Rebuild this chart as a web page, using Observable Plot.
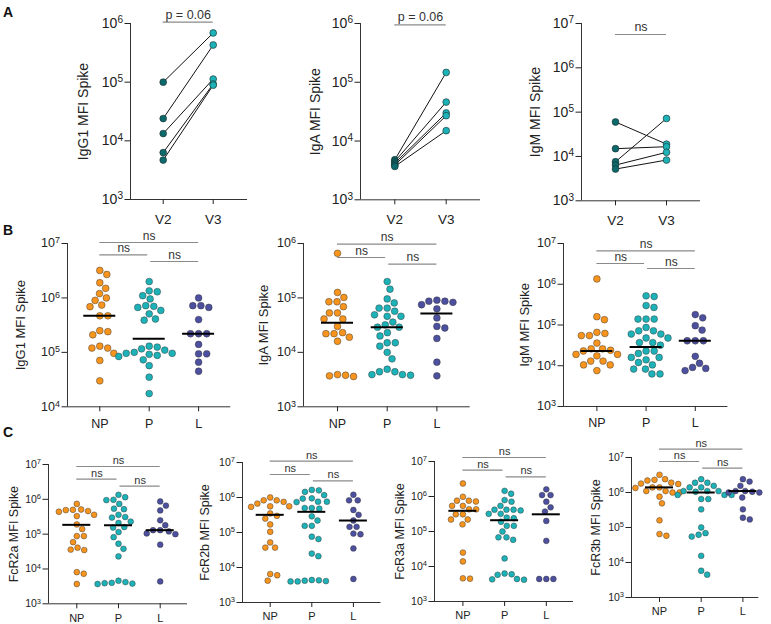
<!DOCTYPE html>
<html><head><meta charset="utf-8">
<script src="https://cdn.jsdelivr.net/npm/d3@7"></script>
<script src="https://cdn.jsdelivr.net/npm/@observablehq/plot@0.6"></script>
<style>
body{margin:0;background:#fff;font-family:"Liberation Sans",Arial,Helvetica,sans-serif;}
#fig{position:relative;width:771px;height:624px;overflow:hidden;background:#fff;}
.panel{position:absolute;}
.letter{position:absolute;font-weight:bold;font-size:14px;line-height:14px;color:#111;}
</style></head><body><div id="fig"></div>
<script>
// ---------------- DATA ----------------
const visits = ["V2", "V3"];
const groups = ["NP", "P", "L"];

// Row A: paired V2 -> V3
const iggV2 = [1.0e5, 2.4e4, 1.33e4, 6.3e3, 4.7e3];
const iggV3 = [6.9e5, 4.3e5, 1.13e5, 9.3e4, 8.9e4];
const igaV2 = [4.8e3, 4.5e3, 4.2e3, 3.9e3, 3.7e3];
const igaV3 = [1.47e5, 4.6e4, 3.0e4, 2.7e4, 1.5e4];
const igmV2 = [6.0e4, 1.5e4, 7.6e3, 6.4e3, 5.2e3];
const igmV3 = [1.9e4, 1.66e4, 7.2e4, 1.24e4, 8.3e3];

// Row B
const igg1NP = [3.2e6, 2.7e6, 1.9e6, 1.5e6, 1.2e6, 1.0e6, 9.0e5, 7.4e5, 6.9e5, 4.7e5, 4.7e5, 2.5e5, 2.4e5, 2.1e5, 1.3e5, 1.2e5, 1.2e5, 9.6e4, 7.1e4, 3.0e4];
const igg1P = [2.0e6, 1.35e6, 1.3e6, 1.1e6, 9.6e5, 7.2e5, 7.0e5, 6.7e5, 5.9e5, 5.1e5, 4.1e5, 3.9e5, 1.3e5, 1.25e5, 1.16e5, 1.1e5, 1.0e5, 9.6e4, 9.6e4, 9.2e4, 8.8e4, 8.4e4, 7.3e4, 5.7e4, 3.5e4, 1.75e4];
const igg1L = [1.0e6, 7.2e5, 7.2e5, 6.7e5, 4.0e5, 2.2e5, 2.2e5, 2.2e5, 1.4e5, 9.4e4, 9.4e4, 6.6e4, 4.5e4];
const igg1Med = [4.7e5, 1.77e5, 2.2e5];

const igaNP = [6.6e5, 1.26e5, 1.02e5, 8.5e4, 8.5e4, 6.9e4, 5.3e4, 5.3e4, 4.1e4, 4.1e4, 3.0e4, 2.3e4, 2.2e4, 2.2e4, 1.9e4, 1.6e4, 3.9e3, 3.8e3, 3.7e3, 3.6e3];
const igaP = [2.0e5, 1.45e5, 9.6e4, 8.1e4, 6.5e4, 6.5e4, 5.7e4, 4.9e4, 4.6e4, 4.6e4, 3.6e4, 3.2e4, 2.9e4, 2.9e4, 2.3e4, 2.0e4, 1.5e4, 1.5e4, 1.3e4, 1.0e4, 7.6e3, 4.9e3, 4.4e3, 4.4e3, 3.9e3, 3.9e3, 3.8e3];
const igaL = [9.1e4, 8.7e4, 8.7e4, 8.3e4, 7.5e4, 6.3e4, 4.3e4, 3.0e4, 2.8e4, 1.8e4, 6.6e3, 3.7e3];
const igaMed = [3.5e4, 2.9e4, 5.2e4];

const igmNP = [1.35e6, 1.6e5, 1.35e5, 6.6e4, 6.2e4, 5.5e4, 5.5e4, 3.6e4, 2.6e4, 2.6e4, 2.4e4, 2.3e4, 1.9e4, 1.9e4, 1.75e4, 1.3e4, 1.3e4, 1.05e4, 1.05e4, 7.6e3];
const igmP = [5.2e5, 5.0e5, 3.0e5, 2.7e5, 1.4e5, 1.4e5, 1.4e5, 8.7e4, 7.2e4, 7.2e4, 6.0e4, 6.0e4, 4.8e4, 4.8e4, 3.7e4, 3.7e4, 3.2e4, 2.3e4, 2.3e4, 2.0e4, 1.6e4, 1.6e4, 1.4e4, 1.2e4, 1.05e4, 8.3e3, 8.3e3, 6.3e3, 6.3e3];
const igmL = [1.8e5, 1.5e5, 9.6e4, 7.5e4, 4.1e4, 4.1e4, 4.1e4, 1.7e4, 1.15e4, 9.1e3, 8.6e3, 7.6e3];
const igmMed = [2.3e4, 2.9e4, 4.1e4];

// Row C
const fcr2aNP = [7.4e5, 5.1e5, 5.0e5, 4.6e5, 4.4e5, 4.9e5, 3.6e5, 3.3e5, 1.9e5, 1.4e5, 8.8e4, 8.8e4, 5.9e4, 4.1e4, 3.6e4, 3.5e4, 8.1e3, 7.3e3, 3.7e3];
const fcr2aP = [1.35e6, 1.15e6, 9.7e5, 9.5e5, 7.4e5, 5.4e5, 5.2e5, 3.6e5, 3.1e5, 3.0e5, 2.3e5, 2.1e5, 1.6e5, 1.55e5, 1.15e5, 8.2e4, 5.3e4, 3.8e4, 2.3e4, 4.6e3, 4.2e3, 4.0e3, 3.9e3, 3.8e3, 3.7e3];
const fcr2aL = [8.7e5, 6.6e5, 4.8e5, 2.5e5, 1.8e5, 1.3e5, 1.3e5, 1.2e5, 1.05e5, 1.0e5, 5.0e4, 4.4e3];
const fcr2aMed = [1.85e5, 1.8e5, 1.3e5];

const fcr2bNP = [1.0e6, 8.3e5, 8.3e5, 7.5e5, 6.7e5, 5.6e5, 5.6e5, 5.4e5, 3.5e5, 3.0e5, 2.5e5, 1.7e5, 1.05e5, 5.2e4, 3.7e4, 3.7e4, 6.5e3, 6.0e3, 4.2e3];
const fcr2bP = [1.65e6, 1.6e6, 1.45e6, 1.17e6, 9.5e5, 9.3e5, 7.6e5, 7.6e5, 7.4e5, 5.0e5, 5.0e5, 4.8e5, 2.9e5, 2.2e5, 1.55e5, 1.55e5, 7.6e4, 6.5e4, 2.5e4, 2.1e4, 4.4e3, 4.3e3, 4.2e3, 4.1e3, 4.0e3, 4.0e3];
const fcr2bL = [1.2e6, 8.3e5, 8.3e5, 4.4e5, 3.2e5, 2.2e5, 1.45e5, 1.45e5, 9.3e4, 8.9e4, 3.5e4, 4.7e3];
const fcr2bMed = [3.2e5, 3.9e5, 2.2e5];

const fcr3aNP = [2.35e6, 9.8e5, 7.6e5, 7.6e5, 7.2e5, 5.4e5, 5.4e5, 4.3e5, 4.3e5, 3.1e5, 3.1e5, 2.2e5, 2.2e5, 1.6e5, 2.5e4, 1.4e4, 4.6e3, 4.5e3];
const fcr3aP = [1.45e6, 1.2e6, 7.9e5, 7.1e5, 5.4e5, 4.2e5, 4.2e5, 4.2e5, 4.0e5, 3.2e5, 3.2e5, 2.5e5, 2.4e5, 1.9e5, 1.45e5, 1.45e5, 1.0e5, 6.8e4, 6.8e4, 5.8e4, 1.7e4, 6.3e3, 6.0e3, 5.8e3, 4.4e3, 4.3e3, 4.2e3];
const fcr3aL = [1.6e6, 1.1e6, 1.1e6, 7.1e5, 4.9e5, 3.7e5, 2.0e5, 5.4e4, 4.4e3, 4.4e3, 4.4e3];
const fcr3aMed = [3.9e5, 2.1e5, 3.1e5];

const fcr3bNP = [3.2e6, 2.4e6, 2.3e6, 2.2e6, 1.9e6, 1.8e6, 1.75e6, 1.4e6, 1.4e6, 1.35e6, 1.1e6, 1.1e6, 1.0e6, 1.0e6, 7.6e5, 4.9e5, 1.6e5, 6.5e4, 5.8e4];
const fcr3bP = [2.4e6, 1.9e6, 1.9e6, 1.55e6, 1.4e6, 1.4e6, 1.1e6, 1.1e6, 1.1e6, 1.05e6, 8.5e5, 8.5e5, 8.5e5, 6.5e5, 6.5e5, 3.3e5, 1.0e5, 6.9e4, 6.2e4, 5.5e4, 1.55e4, 5.8e3, 4.5e3];
const fcr3bL = [2.4e6, 2.05e6, 1.55e6, 1.1e6, 1.1e6, 1.05e6, 1.0e6, 1.0e6, 7.2e5, 3.3e5, 1.9e5, 1.7e5];
const fcr3bMed = [1.4e6, 1.0e6, 1.1e6];

const pairTest = ["p = 0.06", "p = 0.06", "ns"];
const groupTests = ["ns", "ns", "ns"]; // NP-L, NP-P, P-L

// ---------------- STYLE / LAYOUT ----------------
const FONT = '"Liberation Sans", Arial, Helvetica, sans-serif';
const COLORS = {NP: "#f7941d", P: "#1db2b7", L: "#4d4f9f", V2: "#0c6a6c", V3: "#1db2b7"};
const AXIS = "#333";
const BRACKET = "#8a8a8a";

const LAY = {
  A1: {ax:130, xEnd:247, yTop:23.3, yBot:199.3, c0:162.7, s:50, labOff:47, r:3.4, tickFont:14, catFont:13.5, labFont:14, nsFont:12.5, catPad:10, br:[-1.3], nsDy:-7.5},
  A2: {ax:360, xEnd:480, yTop:22.7, yBot:199, c0:394.3, s:51.4, labOff:45, r:3.4, tickFont:14, catFont:13.5, labFont:14, nsFont:12.5, catPad:10, br:[1.3], nsDy:-7.5},
  A3: {ax:581, xEnd:700, yTop:22.7, yBot:200, c0:615, s:51, labOff:46, r:3.4, tickFont:14, catFont:13.5, labFont:14, nsFont:12.5, catPad:10, br:[11], nsDy:-7},
  B1: {ax:66.7, xEnd:230, yTop:242.7, yBot:406, c0:99, s:49.4, labOff:46.7, r:3.4, tickFont:12.5, catFont:12.5, labFont:13, nsFont:12, catPad:7, br:[-1, 11.3, 18], nsDy:-6.5, hw:16},
  B2: {ax:303.3, xEnd:470, yTop:242.7, yBot:406, c0:337.3, s:49.7, labOff:40, r:3.4, tickFont:12.5, catFont:12.5, labFont:13, nsFont:12, catPad:7, br:[0.6, 14, 20.6], nsDy:-6.5, hw:16},
  B3: {ax:563.3, xEnd:727.7, yTop:242.7, yBot:405.7, c0:596.7, s:49.2, labOff:39, r:3.4, tickFont:12.5, catFont:12.5, labFont:13, nsFont:12, catPad:7, br:[7.3, 20, 25], nsDy:-6.5, hw:16},
  C1: {ax:47.7, xEnd:186.7, yTop:464, yBot:603.3, c0:76, s:41.7, labOff:34.7, r:2.9, tickFont:10.5, catFont:11, labFont:12.5, nsFont:11, catPad:5, br:[2, 14.7, 21.7], nsDy:-6, hw:14},
  C2: {ax:241.5, xEnd:380, yTop:462.3, yBot:602.3, c0:269.2, s:41.6, labOff:38, r:2.9, tickFont:10.5, catFont:11, labFont:12.5, nsFont:11, catPad:5, br:[-1.3, 12, 18.4], nsDy:-6, hw:14},
  C3: {ax:434.3, xEnd:573.3, yTop:460.7, yBot:600.7, c0:462.7, s:41.7, labOff:35, r:2.9, tickFont:10.5, catFont:11, labFont:12.5, nsFont:11, catPad:5, br:[-4, 8.6, 15.3], nsDy:-6, hw:14},
  C4: {ax:631, xEnd:758.3, yTop:456.7, yBot:596.7, c0:659, s:41.7, labOff:36, r:2.9, tickFont:10.5, catFont:11, labFont:12.5, nsFont:11, catPad:5, br:[-8.4, 4, 10.6], nsDy:-6, hw:14}
};

// ---------------- HELPERS ----------------
function swarm(values, ypx, D) {
  const order = d3.range(values.length).sort((a, b) => d3.descending(values[a], values[b]));
  const placed = [], out = new Array(values.length);
  for (const i of order) {
    const y = ypx(values[i]);
    const cands = [0];
    for (const p of placed) {
      const dy = Math.abs(p.y - y);
      if (dy < D) { const dx = Math.sqrt(D * D - dy * dy); cands.push(p.x + dx, p.x - dx); }
    }
    cands.sort((a, b) => Math.abs(a) - Math.abs(b));
    let x = 0;
    for (const c of cands) {
      if (placed.every(p => (p.x - c) ** 2 + (p.y - y) ** 2 >= D * D - 1e-6)) { x = c; break; }
    }
    placed.push({x, y});
    out[i] = x;
  }
  return out;
}

function superscripts(svg) {
  const ns = "http://www.w3.org/2000/svg";
  svg.querySelectorAll("text").forEach(t => {
    const m = /^10\^(-?\d+)$/.exec(t.textContent);
    if (m) {
      t.textContent = "";
      const a = document.createElementNS(ns, "tspan"); a.textContent = "10";
      const b = document.createElementNS(ns, "tspan"); b.textContent = m[1];
      b.setAttribute("dy", "-0.45em"); b.setAttribute("font-size", "0.72em");
      t.append(a, b);
    }
  });
}

function makePanel(spec) {
  const L = spec.layout;
  const mL = 62, mR = 14, mT = 42, mB = 34;
  const fw = L.xEnd - L.ax, fh = L.yBot - L.yTop;
  const W = fw + mL + mR, H = fh + mT + mB;
  const xDom = [(L.ax - L.c0) / L.s, (L.xEnd - L.c0) / L.s];
  const [e0, e1] = spec.exp;
  const yDom = [10 ** e0, 10 ** e1];
  const decPx = fh / (e1 - e0);
  const yAt = off => 10 ** (e1 - off / decPx);
  const ypx = d3.scaleLog().domain(yDom).range([mT + fh, mT]);
  const cats = spec.cats;
  const marks = [];

  // data marks
  if (spec.paired) {
    const pairs = spec.paired.v2.map((v, i) => ({v2: v, v3: spec.paired.v3[i]}));
    marks.push(Plot.link(pairs, {x1: () => 0, x2: () => 1, y1: "v2", y2: "v3", stroke: "#111", strokeWidth: 1}));
    marks.push(Plot.dot(pairs, {x: () => 0, y: "v2", r: L.r, fill: COLORS.V2, stroke: "#1a2a2a", strokeWidth: 0.6}));
    marks.push(Plot.dot(pairs, {x: () => 1, y: "v3", r: L.r, fill: COLORS.V3, stroke: "#1a2a2a", strokeWidth: 0.6}));
  } else {
    const pts = [];
    spec.series.forEach((vals, gi) => {
      const offs = swarm(vals, ypx, 2 * L.r + 1.3);
      vals.forEach((v, k) => pts.push({g: cats[gi], gi, v, x: gi + offs[k] / L.s}));
    });
    marks.push(Plot.dot(pts, {x: "x", y: "v", r: L.r, fill: d => COLORS[d.g], stroke: "#333", strokeWidth: 0.5, strokeOpacity: 0.9}));
    const med = spec.medians.map((v, gi) => ({gi, v}));
    marks.push(Plot.ruleY(med, {x1: d => d.gi - L.hw / L.s, x2: d => d.gi + L.hw / L.s, y: "v", stroke: "#000", strokeWidth: 2}));
  }

  // significance brackets
  const gap = 1.5 / L.s;
  const br = spec.brackets.map((b, k) => {
    let x1 = b.a, x2 = b.b;
    if (cats.length === 3 && b.b - b.a === 1) { if (b.a === 0) x2 -= gap; else x1 += gap; }
    return {x1, x2, y: yAt(L.br[k]), label: b.text};
  });
  marks.push(Plot.ruleY(br, {x1: "x1", x2: "x2", y: "y", stroke: BRACKET, strokeWidth: 1.2}));
  marks.push(Plot.text(br, {x: d => (d.x1 + d.x2) / 2, y: "y", text: "label", dy: L.nsDy, fontSize: L.nsFont, fill: "#333"}));

  // axes
  marks.push(Plot.ruleX([xDom[0]], {stroke: AXIS, strokeWidth: 1}));
  marks.push(Plot.ruleY([yDom[0]], {stroke: AXIS, strokeWidth: 1}));
  marks.push(Plot.axisY({ticks: d3.range(e0, e1 + 1).map(e => 10 ** e), tickFormat: d => "10^" + Math.round(Math.log10(d)),
    tickSize: 5.5, tickPadding: 2, fontSize: L.tickFont, label: null, color: "#222"}));
  marks.push(Plot.axisX({ticks: cats.map((c, i) => i), tickFormat: i => cats[i], tickSize: 5, tickPadding: L.catPad,
    fontSize: L.catFont, label: null, color: "#222"}));
  marks.push(Plot.text([spec.label], {text: d => d, frameAnchor: "left", textAnchor: "middle", lineAnchor: "middle",
    rotate: -90, dx: -L.labOff, fontSize: L.labFont, fill: "#222"}));

  const svg = Plot.plot({
    width: W, height: H, marginLeft: mL, marginRight: mR, marginTop: mT, marginBottom: mB,
    x: {type: "linear", domain: xDom},
    y: {type: "log", domain: yDom},
    color: {type: "identity"},
    style: {fontFamily: FONT, background: "transparent", overflow: "visible", maxWidth: "none"},
    marks
  });
  superscripts(svg);
  const div = document.createElement("div");
  div.className = "panel";
  div.style.left = (L.ax - mL) + "px";
  div.style.top = (L.yTop - mT) + "px";
  div.style.width = W + "px";
  div.style.height = H + "px";
  div.appendChild(svg);
  document.getElementById("fig").appendChild(div);
}

// ---------------- BUILD ----------------
const threeBr = [{a:0, b:2, text: groupTests[0]}, {a:0, b:1, text: groupTests[1]}, {a:1, b:2, text: groupTests[2]}];

makePanel({layout: LAY.A1, exp: [3, 6], cats: visits, label: "IgG1 MFI Spike", paired: {v2: iggV2, v3: iggV3}, brackets: [{a:0, b:1, text: pairTest[0]}]});
makePanel({layout: LAY.A2, exp: [3, 6], cats: visits, label: "IgA MFI Spike", paired: {v2: igaV2, v3: igaV3}, brackets: [{a:0, b:1, text: pairTest[1]}]});
makePanel({layout: LAY.A3, exp: [3, 7], cats: visits, label: "IgM MFI Spike", paired: {v2: igmV2, v3: igmV3}, brackets: [{a:0, b:1, text: pairTest[2]}]});

makePanel({layout: LAY.B1, exp: [4, 7], cats: groups, label: "IgG1 MFI Spike", series: [igg1NP, igg1P, igg1L], medians: igg1Med, brackets: threeBr});
makePanel({layout: LAY.B2, exp: [3, 6], cats: groups, label: "IgA MFI Spike", series: [igaNP, igaP, igaL], medians: igaMed, brackets: threeBr});
makePanel({layout: LAY.B3, exp: [3, 7], cats: groups, label: "IgM MFI Spike", series: [igmNP, igmP, igmL], medians: igmMed, brackets: threeBr});

makePanel({layout: LAY.C1, exp: [3, 7], cats: groups, label: "FcR2a MFI Spike", series: [fcr2aNP, fcr2aP, fcr2aL], medians: fcr2aMed, brackets: threeBr});
makePanel({layout: LAY.C2, exp: [3, 7], cats: groups, label: "FcR2b MFI Spike", series: [fcr2bNP, fcr2bP, fcr2bL], medians: fcr2bMed, brackets: threeBr});
makePanel({layout: LAY.C3, exp: [3, 7], cats: groups, label: "FcR3a MFI Spike", series: [fcr3aNP, fcr3aP, fcr3aL], medians: fcr3aMed, brackets: threeBr});
makePanel({layout: LAY.C4, exp: [3, 7], cats: groups, label: "FcR3b MFI Spike", series: [fcr3bNP, fcr3bP, fcr3bL], medians: fcr3bMed, brackets: threeBr});

// panel letters
[["A", 3, 5.4], ["B", 3, 223], ["C", 3, 424.8]].forEach(([t, x, y]) => {
  const d = document.createElement("div");
  d.className = "letter"; d.textContent = t;
  d.style.left = x + "px"; d.style.top = y + "px";
  document.getElementById("fig").appendChild(d);
});
</script>
</body></html>
